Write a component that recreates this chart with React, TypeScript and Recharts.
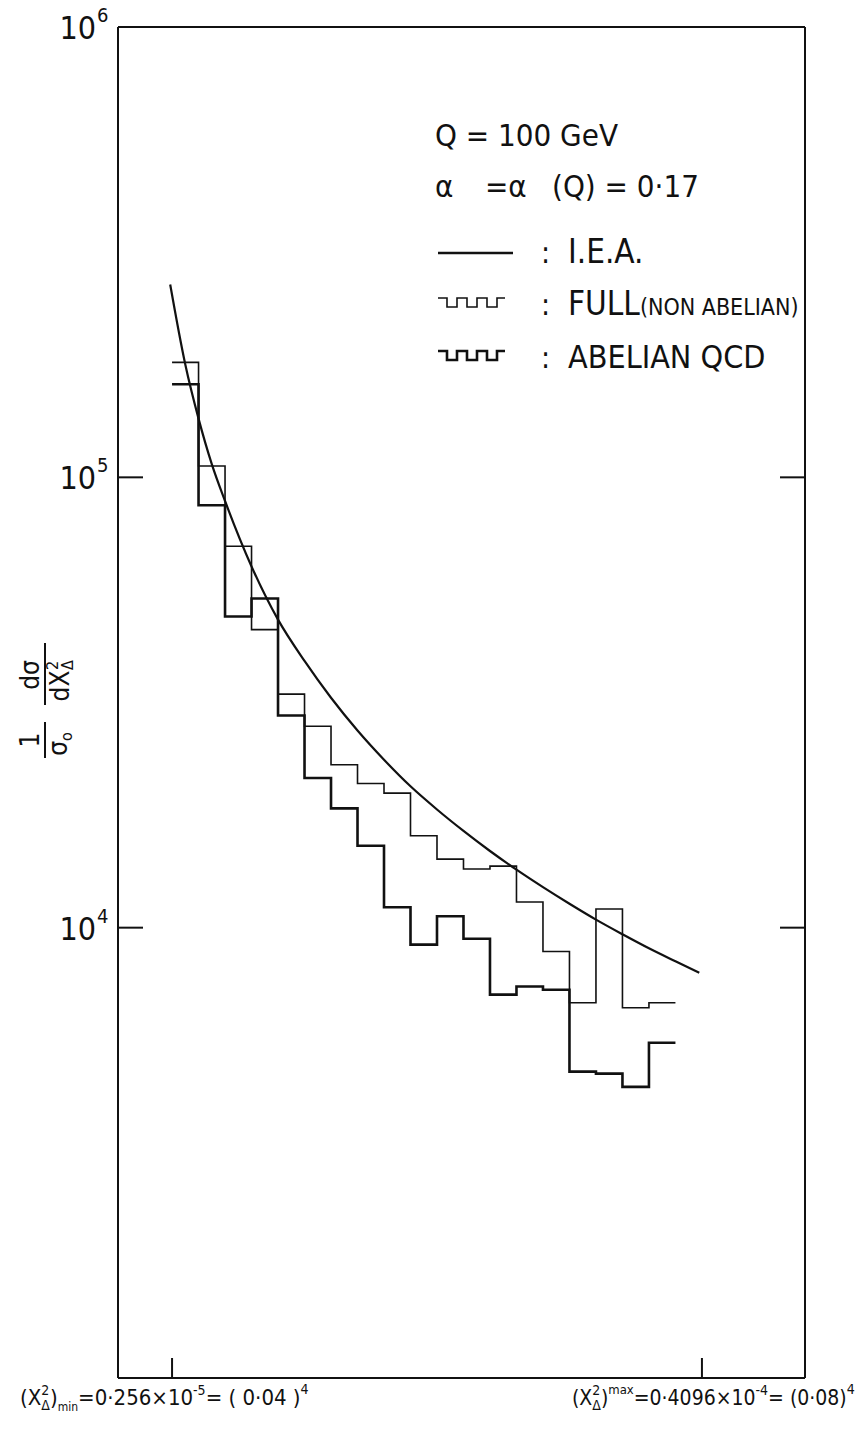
import React from 'react';
import { LineChart, Line, XAxis, YAxis, ReferenceLine } from 'recharts';

// bin index: 0 = (X²Δ)min, 20 = (X²Δ)max
const binEdges = [0, 1, 2, 3, 4, 5, 6, 7, 8, 9, 10, 11, 12, 13, 14, 15, 16, 17, 18, 19];
const fullValues = [180000, 106000, 70300, 45900, 33000, 28000, 23000, 20900, 19900, 16000, 14200, 13500, 13700, 11400, 8850, 6810, 11000, 6640, 6810];
const abelianValues = [161000, 86700, 49100, 53800, 29600, 21500, 18400, 15200, 11100, 9170, 10600, 9450, 7100, 7400, 7280, 4790, 4740, 4430, 5550];
const ieaX = [-0.07, 0.5, 1, 1.5, 2, 3, 4, 5, 6, 7, 8, 9, 10, 11, 12, 13, 14, 15, 16, 17, 18, 19, 19.9];
const ieaValues = [268000, 178000, 135000, 107000, 88600, 63400, 48300, 39100, 32400, 27400, 23600, 20600, 18300, 16400, 14800, 13450, 12300, 11300, 10420, 9670, 9000, 8420, 7940];
const yTicksLeft = [10000, 100000, 1000000];
const yTicksRight = [10000, 100000];
const xTicks = [0, 20];

const INK = '#111';
const FONT = '"DejaVu Sans Condensed", "Liberation Sans Narrow", "DejaVu Sans", sans-serif';

// histogram: one point per bin start plus the closing edge
const toSteps = (values: number[]) =>
  binEdges.map((x, i) => ({ x, v: values[Math.min(i, values.length - 1)] }));

const fullData = toSteps(fullValues);
const abelianData = toSteps(abelianValues);
const ieaData = ieaX.map((x, i) => ({ x, v: ieaValues[i] }));

const LeftTick = (props: any) => {
  const { x, y, payload } = props;
  const exp = String(Math.round(Math.log10(payload.value)));
  return (
    <g>
      <line x1={x} x2={x + 25} y1={y} y2={y} stroke={INK} strokeWidth={2} />
      <text x={x - 22} y={y + 12} textAnchor="end" fontSize={32} fontFamily={FONT} fill={INK}>10</text>
      <text x={x - 21} y={y - 5} fontSize={20} fontFamily={FONT} fill={INK}>{exp}</text>
    </g>
  );
};

const RightTick = (props: any) => {
  const { x, y } = props;
  return <line x1={x - 25} x2={x} y1={y} y2={y} stroke={INK} strokeWidth={2} />;
};

const XMinLabel = ({ x, y }: { x: number; y: number }) => (
  <text x={x} y={y} fontSize={22} fontFamily={FONT} fill={INK}>
    <tspan>(X</tspan>
    <tspan fontSize={14} dy={-10}>2</tspan>
    <tspan fontSize={14} dx={-8} dy={15}>Δ</tspan>
    <tspan dy={-5}>)</tspan>
    <tspan fontSize={12} dy={6}>min</tspan>
    <tspan dy={-6}>=0·256×10</tspan>
    <tspan fontSize={14} dy={-10}>-5</tspan>
    <tspan dy={10}>= ( 0·04 )</tspan>
    <tspan fontSize={14} dy={-11}>4</tspan>
  </text>
);

const XMaxLabel = ({ x, y }: { x: number; y: number }) => (
  <text x={x} y={y} fontSize={21} fontFamily={FONT} fill={INK}>
    <tspan>(X</tspan>
    <tspan fontSize={14} dy={-10}>2</tspan>
    <tspan fontSize={14} dx={-8} dy={15}>Δ</tspan>
    <tspan dy={-5}>)</tspan>
    <tspan fontSize={13} dy={-11}>max</tspan>
    <tspan dy={11}>=0·4096×10</tspan>
    <tspan fontSize={14} dy={-10}>-4</tspan>
    <tspan dy={10}>= (0·08)</tspan>
    <tspan fontSize={14} dy={-11}>4</tspan>
  </text>
);

const BottomTick = (props: any) => {
  const { x, y, index } = props;
  return (
    <g>
      <line x1={x} x2={x} y1={y - 20} y2={y} stroke={INK} strokeWidth={2} />
      {index === 0 ? <XMinLabel x={x - 152} y={y + 27} /> : <XMaxLabel x={x - 130} y={y + 27} />}
    </g>
  );
};

const stepSymbol = (x: number, y: number) =>
  `M${x},${y} h9 v9 h10 v-9 h10 v9 h10 v-9 h10 v9 h10 v-9 h8`;

const Annotations = () => (
  <svg
    width={865}
    height={1437}
    style={{ position: 'absolute', left: 0, top: 0, pointerEvents: 'none' }}
  >
    <g fontFamily={FONT} fill={INK}>
      <text x={435} y={146} fontSize={31}>Q = 100 GeV</text>
      <text y={197} fontSize={31}>
        <tspan x={435}>α</tspan>
        <tspan x={485}>=α</tspan>
        <tspan x={552}>(Q) = 0·17</tspan>
      </text>

      <line x1={438} x2={513} y1={253} y2={253} stroke={INK} strokeWidth={2.5} />
      <text x={541} y={263} fontSize={30}>:</text>
      <text x={568} y={263} fontSize={33}>I.E.A.</text>

      <path d={stepSymbol(438, 298)} fill="none" stroke={INK} strokeWidth={1.6} />
      <text x={541} y={315} fontSize={30}>:</text>
      <text x={568} y={315} fontSize={33}>
        FULL<tspan fontSize={23}>(NON ABELIAN)</tspan>
      </text>

      <path d={stepSymbol(438, 351)} fill="none" stroke={INK} strokeWidth={2.6} />
      <text x={541} y={368} fontSize={30}>:</text>
      <text x={568} y={368} fontSize={32}>ABELIAN QCD</text>

      <g transform="translate(45,700) rotate(-90)" fontSize={26}>
        <text x={-40} y={-6} textAnchor="middle">1</text>
        <line x1={-58} x2={-22} y1={0} y2={0} stroke={INK} strokeWidth={2} />
        <text x={-44} y={22} textAnchor="middle">
          σ<tspan fontSize={16} dy={5}>o</tspan>
        </text>
        <text x={25} y={-6} textAnchor="middle">dσ</text>
        <line x1={-5} x2={57} y1={0} y2={0} stroke={INK} strokeWidth={2} />
        <text x={14} y={24} textAnchor="middle">dX</text>
        <text x={30} y={13} fontSize={16}>2</text>
        <text x={30} y={28} fontSize={16}>Δ</text>
      </g>
    </g>
  </svg>
);

export default function App() {
  return (
    <div style={{ position: 'absolute', left: 0, top: 0, width: 865, height: 1437, background: '#fff' }}>
      <LineChart width={865} height={1437} margin={{ top: 27, right: 0, bottom: 0, left: 0 }}>
        <XAxis
          dataKey="x"
          type="number"
          domain={[-2.04, 23.89]}
          ticks={xTicks}
          interval={0}
          allowDataOverflow
          tick={<BottomTick />}
          tickLine={false}
          tickSize={0}
          tickMargin={0}
          height={59}
          axisLine={{ stroke: INK, strokeWidth: 2 }}
        />
        <YAxis
          yAxisId="left"
          type="number"
          scale="log"
          domain={[1000, 1000000]}
          ticks={yTicksLeft}
          interval={0}
          allowDataOverflow
          tick={<LeftTick />}
          tickLine={false}
          tickSize={0}
          tickMargin={0}
          width={118}
          axisLine={{ stroke: INK, strokeWidth: 2 }}
        />
        <YAxis
          yAxisId="right"
          orientation="right"
          type="number"
          scale="log"
          domain={[1000, 1000000]}
          ticks={yTicksRight}
          interval={0}
          allowDataOverflow
          tick={<RightTick />}
          tickLine={false}
          tickSize={0}
          tickMargin={0}
          width={60}
          axisLine={{ stroke: INK, strokeWidth: 2 }}
        />
        <ReferenceLine yAxisId="left" y={1000000} stroke={INK} strokeWidth={2} />
        <Line
          yAxisId="left"
          data={ieaData}
          dataKey="v"
          type="monotone"
          stroke={INK}
          strokeWidth={2.2}
          dot={false}
          isAnimationActive={false}
        />
        <Line
          yAxisId="left"
          data={fullData}
          dataKey="v"
          type="stepAfter"
          stroke={INK}
          strokeWidth={1.6}
          dot={false}
          isAnimationActive={false}
        />
        <Line
          yAxisId="left"
          data={abelianData}
          dataKey="v"
          type="stepAfter"
          stroke={INK}
          strokeWidth={2.6}
          dot={false}
          isAnimationActive={false}
        />
      </LineChart>
      <Annotations />
    </div>
  );
}
